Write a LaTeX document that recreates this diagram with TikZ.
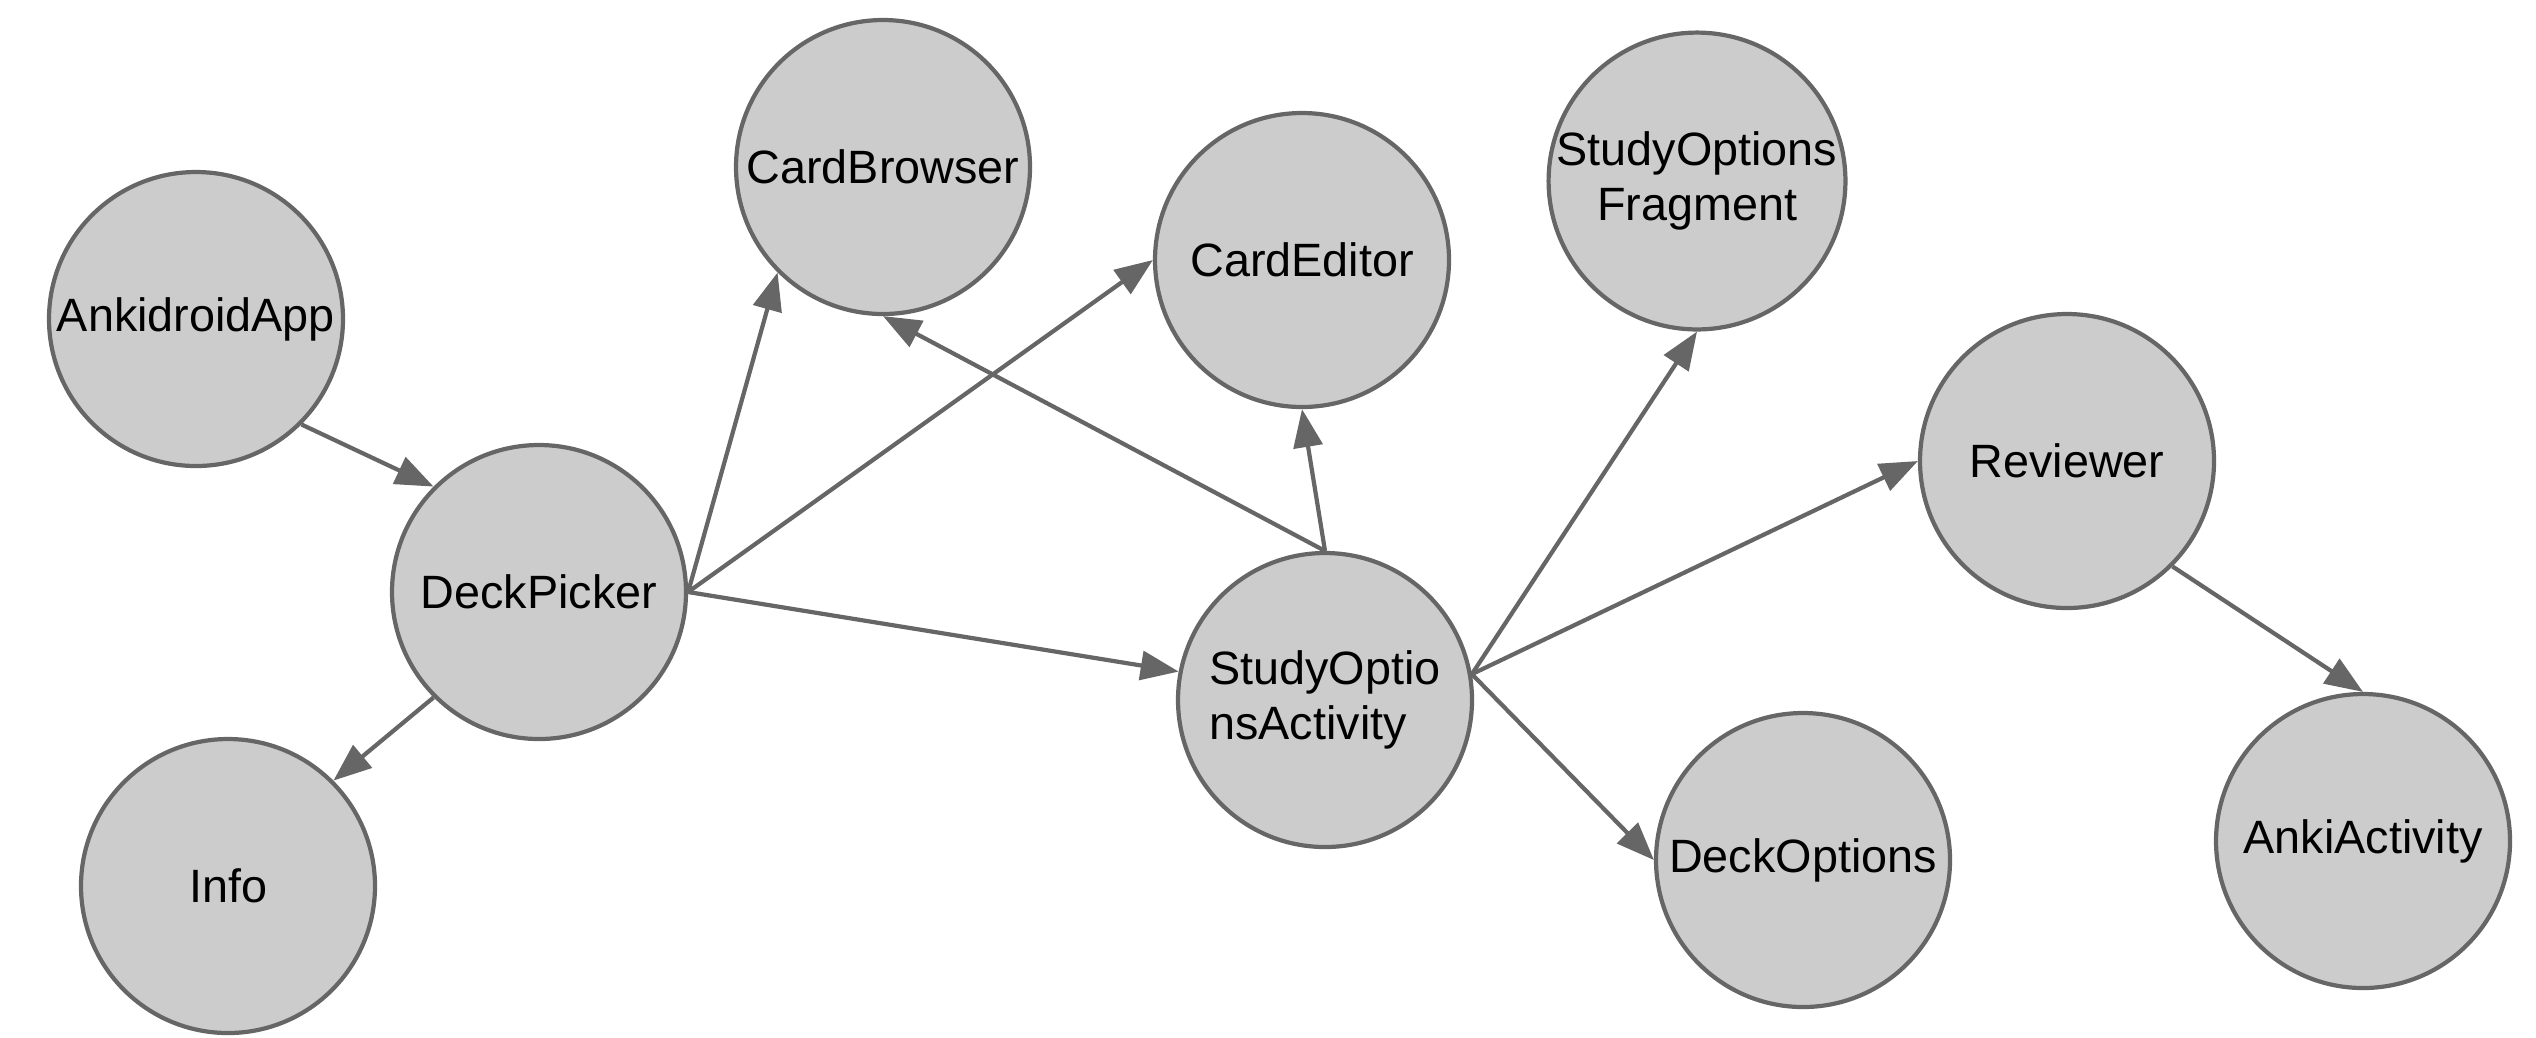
\documentclass[tikz,border=0pt]{standalone}
\usepackage{fontspec}
\setmainfont{Liberation Sans}
\usetikzlibrary{arrows.meta}

\definecolor{nodefill}{HTML}{CCCCCC}
\definecolor{edgegray}{HTML}{666666}

\begin{document}
\begin{tikzpicture}[
      x=0.1mm, y=-0.1mm,
      activity/.style={circle, draw=edgegray, line width=1.2pt, fill=nodefill, minimum size=29.4mm, inner sep=0pt, align=center, font=\fontsize{13.3}{15.6}\selectfont},
      arrow/.style={-{Triangle[length=3.8mm, width=2.9mm]}, line width=1.2pt, draw=edgegray}
    ]
    \useasboundingbox (0,0) rectangle (2536,1037);
    
    \node[activity] (app) at (196,319) {AnkidroidApp};
    \node[activity] (dp) at (539,592) {DeckPicker};
    \node[activity] (info) at (228,886) {Info};
    \node[activity] (cb) at (883,167) {CardBrowser};
    \node[activity] (ce) at (1302,260) {CardEditor};
    \node[activity] (sof) at (1697,181) {StudyOptions\\Fragment};
    \node[activity, align=left] (soa) at (1325,700) {StudyOptio\\nsActivity};
    \node[activity] (rev) at (2067,461) {Reviewer};
    \node[activity] (do) at (1803,860) {DeckOptions};
    \node[activity] (aa) at (2363,841) {AnkiActivity};
    
    \draw[arrow] (app.south east) -- (dp.north west);
    \draw[arrow] (dp.south west) -- (info.north east);
    \draw[arrow] (dp.east) -- (cb.south west);
    \draw[arrow] (dp.east) -- (ce.west);
    \draw[arrow] (dp.east) -- (soa.169);
    \draw[arrow] (soa.north) -- (cb.south);
    \draw[arrow] (soa.north) -- (ce.south);
    \draw[arrow] (soa.10) -- (sof.south);
    \draw[arrow] (soa.10) -- (rev.west);
    \draw[arrow] (soa.10) -- (do.west);
    \draw[arrow] (rev.south east) -- (aa.north);
  \end{tikzpicture}
\end{document}
